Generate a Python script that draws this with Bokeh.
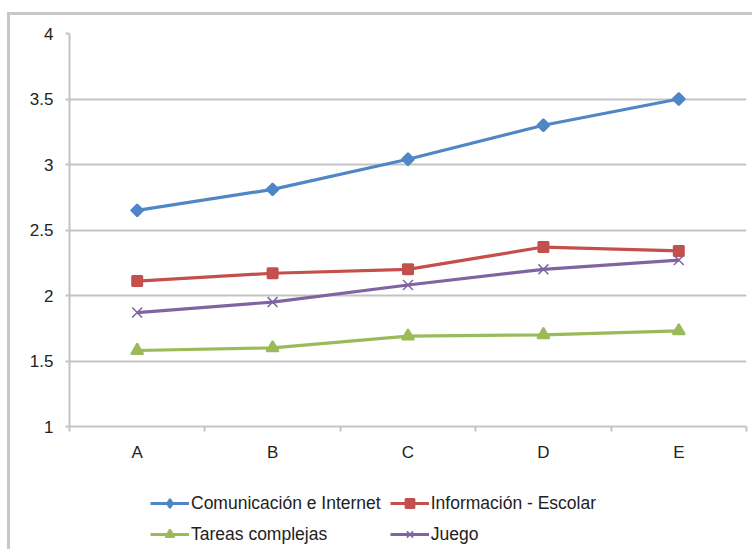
import math
from bokeh.plotting import figure
from bokeh.layouts import column
from bokeh.models import (FixedTicker, CustomJSTickFormatter, Legend, LegendItem,
                          ColumnDataSource)
from bokeh.embed import file_html
from bokeh.resources import INLINE

# Category labels along the x axis
categories = ["A", "B", "C", "D", "E"]

# Mean scores per category for each use type
comunicacion = [2.65, 2.81, 3.04, 3.30, 3.50]
informacion = [2.11, 2.17, 2.20, 2.37, 2.34]
tareas = [1.58, 1.60, 1.69, 1.70, 1.73]
juego = [1.87, 1.95, 2.08, 2.20, 2.27]

series_names = ["Comunicación e Internet", "Información - Escolar",
                "Tareas complejas", "Juego"]

y_ticks = [1, 1.5, 2, 2.5, 3, 3.5, 4]

FONT = "Liberation Sans"
GRID = "#c3c3c3"
TEXT = "#222222"
TICK_SIZE = "17px"

# categories sit in the middle of unit-wide slots: 0.5, 1.5, ...
x_pos = [i + 0.5 for i in range(len(categories))]
boundaries = [float(i) for i in range(len(categories) + 1)]

p = figure(width=742, height=455, x_range=(0, len(categories)), y_range=(1, 4),
           output_backend="svg", toolbar_location=None,
           min_border_left=59, min_border_right=6,
           min_border_top=18, min_border_bottom=44)
p.outline_line_color = None
p.background_fill_color = "white"
p.border_fill_color = "white"

# y axis
p.yaxis.ticker = FixedTicker(ticks=y_ticks)
p.yaxis.formatter = CustomJSTickFormatter(code="return tick.toString();")
p.yaxis.axis_line_color = GRID
p.yaxis.axis_line_width = 2
p.yaxis.major_tick_line_color = GRID
p.yaxis.major_tick_line_width = 2
p.yaxis.major_tick_out = 4
p.yaxis.major_tick_in = 0
p.yaxis.minor_tick_line_color = None
p.yaxis.major_label_standoff = 12
p.yaxis.major_label_text_font = FONT
p.yaxis.major_label_text_font_size = TICK_SIZE
p.yaxis.major_label_text_color = TEXT

# x axis: labels at slot centres, small ticks at slot boundaries
p.xaxis.ticker = FixedTicker(ticks=x_pos, minor_ticks=boundaries)
p.xaxis.major_label_overrides = {x: c for x, c in zip(x_pos, categories)}
p.xaxis.axis_line_color = GRID
p.xaxis.axis_line_width = 2
p.xaxis.major_tick_line_color = None
p.xaxis.major_tick_out = 0
p.xaxis.major_tick_in = 0
p.xaxis.minor_tick_line_color = GRID
p.xaxis.minor_tick_line_width = 2
p.xaxis.minor_tick_out = 5
p.xaxis.minor_tick_in = 0
p.xaxis.major_label_standoff = 11
p.xaxis.major_label_text_font = FONT
p.xaxis.major_label_text_font_size = TICK_SIZE
p.xaxis.major_label_text_color = TEXT

p.xgrid.grid_line_color = None
p.ygrid.grid_line_color = GRID
p.ygrid.grid_line_width = 2

colors = ["#4f86c6", "#c4504d", "#9bbb59", "#8064a2"]
values = [comunicacion, informacion, tareas, juego]
markers = ["square", "square", "triangle", "x"]
angles = [math.pi / 4, 0, 0, 0]
sizes = [8.5, 10, 12, 14]
marker_widths = [2, 2, 2, 1.5]

sources = []
for vals, col, mk, ang, sz, mw in zip(values, colors, markers, angles, sizes,
                                      marker_widths):
    src = ColumnDataSource(dict(x=x_pos, y=vals))
    sources.append(src)
    p.line("x", "y", source=src, line_color=col, line_width=3.2)
    p.scatter("x", "y", source=src, marker=mk, size=sz, angle=ang,
              fill_color=col, line_color=col, line_width=mw)

# legend strip underneath the chart (its own renderers fall outside its range)
leg = figure(width=742, height=79, x_range=(100, 101), y_range=(100, 101),
             output_backend="svg", toolbar_location=None,
             min_border=0, min_border_left=0, min_border_right=0,
             min_border_top=0, min_border_bottom=0)
leg.axis.visible = False
leg.grid.visible = False
leg.outline_line_color = None
leg.border_fill_color = "white"

legend_markers = ["diamond", "square", "triangle", "x"]
legend_sizes = [11, 8, 10, 11]

entries = {}
for name, src, col, mk, sz, mw in zip(series_names, sources, colors,
                                      legend_markers, legend_sizes, marker_widths):
    ln = leg.line("x", "y", source=src, line_color=col, line_width=3)
    sc = leg.scatter("x", "y", source=src, marker=mk, size=sz,
                     fill_color=col, line_color=col, line_width=mw)
    entries[name] = LegendItem(label=name, renderers=[ln, sc])

# two rows, filled left to right
order = [series_names[0], series_names[2], series_names[1], series_names[3]]
legend = Legend(items=[entries[n] for n in order], ncols=2, location=(81, 4),
                label_text_font=FONT, label_text_font_size="17.5px",
                label_text_color=TEXT,
                glyph_width=39, glyph_height=22, label_height=22,
                label_standoff=2, spacing=9, padding=0, margin=0,
                border_line_color=None, background_fill_alpha=0)
leg.add_layout(legend, "center")

# light grey chart frame around the whole drawing
layout = column(p, leg, spacing=0,
                styles={"margin-left": "7px", "margin-top": "12px",
                        "border-left": "3px solid #c8c8c8",
                        "border-top": "3px solid #c8c8c8"})

open("out.html", "w").write(file_html(layout, INLINE))
